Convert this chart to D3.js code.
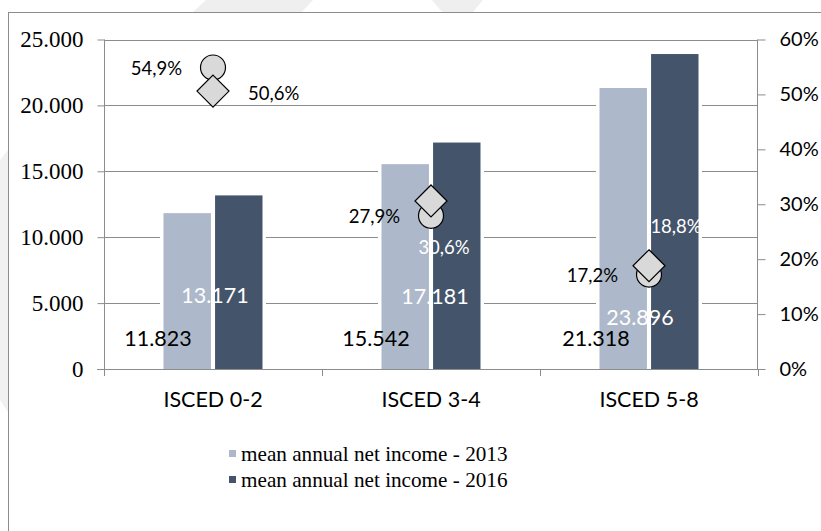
<!DOCTYPE html>
<html><head><meta charset="utf-8">
<script src="https://cdn.jsdelivr.net/npm/d3@7"></script>
<style>body{margin:0;background:#fff;}svg{display:block;}</style>
</head><body>
<svg id="chart" width="821" height="531"></svg>
<script>
// ---- data ----
const categories = ["ISCED 0-2", "ISCED 3-4", "ISCED 5-8"];
const seriesNames = ["mean annual net income - 2013", "mean annual net income - 2016"];
const income2013 = [11823, 15542, 21318];
const income2016 = [13171, 17181, 23896];
const share2013 = [0.549, 0.279, 0.172];
const share2016 = [0.506, 0.306, 0.188];
const leftTicks = [0, 5000, 10000, 15000, 20000, 25000];
const rightTicks = [0, 0.1, 0.2, 0.3, 0.4, 0.5, 0.6];

// ---- layout (label nudges, px) ----
const valLabel2013 = [[-55, 338], [-55, 338], [-53, 338]];
const valLabel2016 = [[2, 295], [4, 296], [-9, 317]];
const pctLabel2016 = [{dx: 35, dy: 2, anchor: "start"}, {dx: 13, dy: 47, anchor: "middle"}, {dx: 27, dy: -39, anchor: "middle"}];

const colors = ["#adb9ca", "#44546a"];
const gridColor = "#8c8c8c";
const sans = "Lato, 'Open Sans', sans-serif";
const serif = "'Liberation Serif', 'Times New Roman', serif";

const svg = d3.select("#chart");

// watermark shapes
svg.append("polygon").attr("points", "193,12 206,0 313,0 302,12").attr("fill", "#efefef");
svg.append("polygon").attr("points", "432,0 483,0 473,12 442,12").attr("fill", "#efefef");
svg.append("polygon").attr("points", "0,160 8,150 8,412 0,400").attr("fill", "#f1f1f1");

// outer border
svg.append("rect").attr("x", 8.5).attr("y", 12.5).attr("width", 830).attr("height", 540)
  .attr("fill", "none").attr("stroke", gridColor).attr("stroke-width", 1);

const x0 = d3.scaleBand().domain(categories).range([104, 758]);
const pairW = 99;
const x1 = d3.scaleBand().domain(seriesNames).range([0, pairW]).paddingInner(0.08);
const yL = d3.scaleLinear().domain([0, 25000]).range([369, 39.5]);
const yR = d3.scaleLinear().domain([0, 0.6]).range([369, 39.5]);
const cx = c => x0(c) + x0.bandwidth() / 2;
const barX = (c, s) => x0(c) + (x0.bandwidth() - pairW) / 2 + x1(s);

// gridlines
svg.append("g").selectAll("line").data(leftTicks.filter(t => t > 0)).join("line")
  .attr("x1", 104).attr("x2", 757).attr("y1", d => Math.round(yL(d)) + 0.5).attr("y2", d => Math.round(yL(d)) + 0.5)
  .attr("stroke", gridColor).attr("stroke-width", 1);

// left axis
const gL = svg.append("g").attr("transform", "translate(104.5,0)")
  .call(d3.axisLeft(yL).tickValues(leftTicks).tickSize(7).tickPadding(14)
    .tickFormat(d => d === 0 ? "0" : d3.format(",")(d).replace(/,/g, ".")));
gL.selectAll("path,line").attr("stroke", gridColor);
gL.selectAll("text").attr("font-family", serif).attr("font-size", 23).attr("fill", "#000");
gL.select(".domain").attr("d", `M0,${yL(25000)}V${yL(0)}`);

// right axis
const gR = svg.append("g").attr("transform", "translate(757.5,0)")
  .call(d3.axisRight(yR).tickValues(rightTicks).tickSize(8).tickPadding(14).tickFormat(d3.format(".0%")));
gR.selectAll("path,line").attr("stroke", gridColor);
gR.selectAll("text").attr("font-family", sans).attr("font-size", 20).attr("fill", "#000");
gR.select(".domain").attr("d", `M0,${yR(0.6)}V${yR(0)}`);

// bottom axis
const gB = svg.append("g").attr("transform", "translate(0,369.5)")
  .call(d3.axisBottom(x0).tickSize(0).tickPadding(22));
gB.select(".domain").attr("stroke", gridColor).attr("d", "M97,0H765");
gB.selectAll("text").attr("font-family", sans).attr("font-size", 21.5).attr("fill", "#000");
svg.append("g").selectAll("line").data([104, 758].concat(categories.slice(1).map(c => x0(c))))
  .join("line").attr("x1", d => Math.round(d) + 0.5).attr("x2", d => Math.round(d) + 0.5)
  .attr("y1", 369.5).attr("y2", 376).attr("stroke", gridColor);

// bars
const barData = [];
categories.forEach((c, i) => {
  barData.push({c, s: seriesNames[0], v: income2013[i], k: 0});
  barData.push({c, s: seriesNames[1], v: income2016[i], k: 1});
});
const gBars = svg.append("g");
gBars.selectAll("rect.bg").data(barData).join("rect").attr("class", "bg")
  .attr("x", d => barX(d.c, d.s) - 3.5).attr("width", x1.bandwidth() + 7)
  .attr("y", d => yL(d.v) - 3).attr("height", d => yL(0) - yL(d.v) + 2.5).attr("fill", "#fff");
gBars.selectAll("rect.bar").data(barData).join("rect").attr("class", "bar")
  .attr("x", d => barX(d.c, d.s)).attr("width", x1.bandwidth())
  .attr("y", d => yL(d.v)).attr("height", d => yL(0) - yL(d.v)).attr("fill", d => colors[d.k]);

// value labels
const fmtVal = v => d3.format(",")(v).replace(/,/g, ".");
const gV = svg.append("g").attr("font-family", sans).attr("font-size", 21.5).attr("text-anchor", "middle");
categories.forEach((c, i) => {
  gV.append("text").attr("x", cx(c) + valLabel2013[i][0]).attr("y", valLabel2013[i][1]).attr("dy", "0.35em")
    .attr("fill", "#000").text(fmtVal(income2013[i]));
  gV.append("text").attr("x", cx(c) + valLabel2016[i][0]).attr("y", valLabel2016[i][1]).attr("dy", "0.35em")
    .attr("fill", "#fff").text(fmtVal(income2016[i]));
});

// markers
const fmtPct = v => d3.format(".1f")(v * 100).replace(".", ",") + "%";
const gM = svg.append("g");
gM.selectAll("circle").data(categories).join("circle")
  .attr("cx", c => cx(c)).attr("cy", (c, i) => yR(share2013[i])).attr("r", 12.5)
  .attr("fill", "#d9d9d9").attr("stroke", "#000").attr("stroke-width", 1.2);
gM.selectAll("path").data(categories).join("path")
  .attr("transform", (c, i) => `translate(${cx(c)},${yR(share2016[i])})`)
  .attr("d", "M0,-16L16,0L0,16L-16,0Z")
  .attr("fill", "#d9d9d9").attr("stroke", "#000").attr("stroke-width", 1.2);

// percent labels
const gP = svg.append("g").attr("font-family", sans).attr("font-size", 18.5);
categories.forEach((c, i) => {
  gP.append("text").attr("x", cx(c) - 31).attr("y", yR(share2013[i]) + 1).attr("dy", "0.35em")
    .attr("text-anchor", "end").attr("fill", "#000").text(fmtPct(share2013[i]));
  const p = pctLabel2016[i];
  gP.append("text").attr("x", cx(c) + p.dx).attr("y", yR(share2016[i]) + p.dy).attr("dy", "0.35em")
    .attr("text-anchor", p.anchor).attr("fill", i === 0 ? "#000" : "#fff").text(fmtPct(share2016[i]));
});

// legend
const gLeg = svg.append("g");
seriesNames.forEach((s, i) => {
  const y = 454 + i * 26;
  gLeg.append("rect").attr("x", 229).attr("y", y - 4).attr("width", 7).attr("height", 7).attr("fill", colors[i]);
  gLeg.append("text").attr("x", 241).attr("y", y).attr("dy", "0.35em")
    .attr("font-family", serif).attr("font-size", 21.2).attr("fill", "#000").text(s);
});
</script>
</body></html>
